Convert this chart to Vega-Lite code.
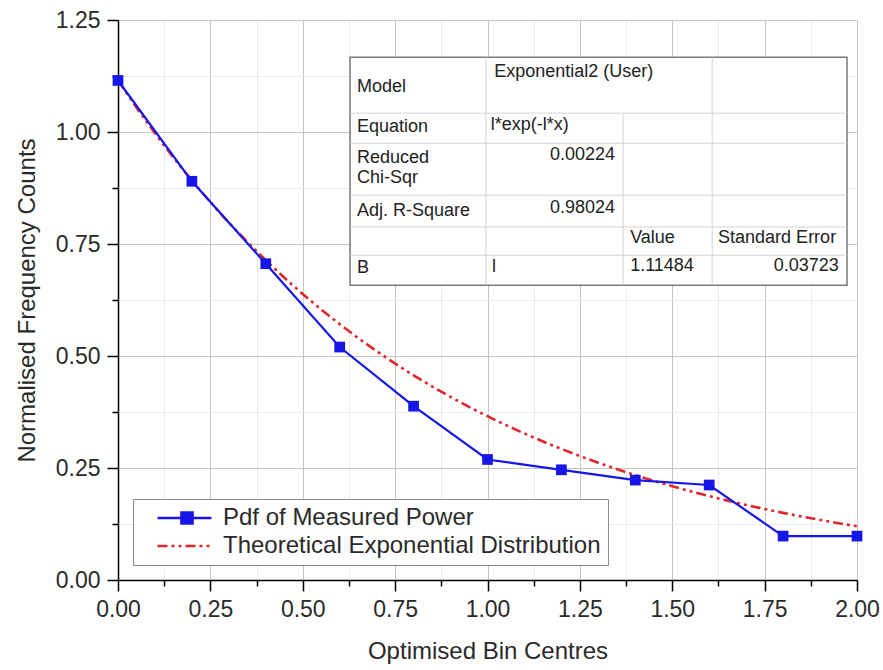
{
  "$schema": "https://vega.github.io/schema/vega-lite/v6.json",
  "width": 739,
  "height": 560,
  "autosize": {"type": "none"},
  "padding": {"left": 118, "top": 20, "right": 26, "bottom": 90},
  "background": "white",
  "config": {
    "view": {"stroke": null},
    "font": "Liberation Sans",
    "axis": {
      "domainColor": "#000000",
      "domainWidth": 1.5,
      "tickColor": "#000000",
      "tickWidth": 1.5,
      "labelFont": "Liberation Sans",
      "labelFontSize": 23,
      "labelColor": "#2a2a2a",
      "titleFont": "Liberation Sans",
      "titleFontSize": 24,
      "titleFontWeight": "normal",
      "titleColor": "#2a2a2a",
      "gridWidth": 1
    }
  },
  "datasets": {
    "measured": [
      {"bin": 0.0, "count": 1.115, "series": "Pdf of Measured Power"},
      {"bin": 0.2, "count": 0.890, "series": "Pdf of Measured Power"},
      {"bin": 0.4, "count": 0.706, "series": "Pdf of Measured Power"},
      {"bin": 0.6, "count": 0.520, "series": "Pdf of Measured Power"},
      {"bin": 0.8, "count": 0.388, "series": "Pdf of Measured Power"},
      {"bin": 1.0, "count": 0.269, "series": "Pdf of Measured Power"},
      {"bin": 1.2, "count": 0.246, "series": "Pdf of Measured Power"},
      {"bin": 1.4, "count": 0.223, "series": "Pdf of Measured Power"},
      {"bin": 1.6, "count": 0.212, "series": "Pdf of Measured Power"},
      {"bin": 1.8, "count": 0.098, "series": "Pdf of Measured Power"},
      {"bin": 2.0, "count": 0.098, "series": "Pdf of Measured Power"}
    ],
    "theory": [
      {"bin": 0.0, "count": 1.11484, "series": "Theoretical Exponential Distribution"},
      {"bin": 0.1, "count": 0.99723, "series": "Theoretical Exponential Distribution"},
      {"bin": 0.2, "count": 0.89203, "series": "Theoretical Exponential Distribution"},
      {"bin": 0.3, "count": 0.79793, "series": "Theoretical Exponential Distribution"},
      {"bin": 0.4, "count": 0.71375, "series": "Theoretical Exponential Distribution"},
      {"bin": 0.5, "count": 0.63844, "series": "Theoretical Exponential Distribution"},
      {"bin": 0.6, "count": 0.57109, "series": "Theoretical Exponential Distribution"},
      {"bin": 0.7, "count": 0.51084, "series": "Theoretical Exponential Distribution"},
      {"bin": 0.8, "count": 0.45695, "series": "Theoretical Exponential Distribution"},
      {"bin": 0.9, "count": 0.40875, "series": "Theoretical Exponential Distribution"},
      {"bin": 1.0, "count": 0.36563, "series": "Theoretical Exponential Distribution"},
      {"bin": 1.1, "count": 0.32705, "series": "Theoretical Exponential Distribution"},
      {"bin": 1.2, "count": 0.29255, "series": "Theoretical Exponential Distribution"},
      {"bin": 1.3, "count": 0.26169, "series": "Theoretical Exponential Distribution"},
      {"bin": 1.4, "count": 0.23408, "series": "Theoretical Exponential Distribution"},
      {"bin": 1.5, "count": 0.20939, "series": "Theoretical Exponential Distribution"},
      {"bin": 1.6, "count": 0.18730, "series": "Theoretical Exponential Distribution"},
      {"bin": 1.7, "count": 0.16754, "series": "Theoretical Exponential Distribution"},
      {"bin": 1.8, "count": 0.14987, "series": "Theoretical Exponential Distribution"},
      {"bin": 1.9, "count": 0.13406, "series": "Theoretical Exponential Distribution"},
      {"bin": 2.0, "count": 0.11992, "series": "Theoretical Exponential Distribution"}
    ],
    "tableBox": [{"x": 0.628, "x2": 1.973, "y": 0.658, "y2": 1.167}],
    "tableH": [
      {"y": 1.042, "x": 0.628, "x2": 1.973},
      {"y": 0.975, "x": 0.628, "x2": 1.973},
      {"y": 0.859, "x": 0.628, "x2": 1.973},
      {"y": 0.788, "x": 0.628, "x2": 1.973},
      {"y": 0.725, "x": 0.628, "x2": 1.973}
    ],
    "tableV": [
      {"x": 0.996, "y": 0.658, "y2": 1.167},
      {"x": 1.367, "y": 0.658, "y2": 1.042},
      {"x": 1.608, "y": 0.658, "y2": 1.167}
    ],
    "cellsLeft": [
      {"x": 0.647, "y": 1.100, "text": "Model"},
      {"x": 1.018, "y": 1.134, "text": "Exponential2 (User)"},
      {"x": 0.647, "y": 1.011, "text": "Equation"},
      {"x": 1.009, "y": 1.016, "text": "l*exp(-l*x)"},
      {"x": 0.647, "y": 0.942, "text": "Reduced"},
      {"x": 0.647, "y": 0.897, "text": "Chi-Sqr"},
      {"x": 0.647, "y": 0.824, "text": "Adj. R-Square"},
      {"x": 1.386, "y": 0.763, "text": "Value"},
      {"x": 1.624, "y": 0.763, "text": "Standard Error"},
      {"x": 0.647, "y": 0.696, "text": "B"},
      {"x": 1.012, "y": 0.699, "text": "l"},
      {"x": 1.386, "y": 0.701, "text": "1.11484"}
    ],
    "cellsRight": [
      {"x": 1.345, "y": 0.949, "text": "0.00224"},
      {"x": 1.345, "y": 0.830, "text": "0.98024"},
      {"x": 1.951, "y": 0.701, "text": "0.03723"}
    ]
  },
  "layer": [
    {
      "data": {"name": "theory"},
      "mark": {"type": "line", "strokeWidth": 2.6, "strokeDash": [10, 4, 3, 4, 3, 4], "interpolate": "monotone"},
      "encoding": {
        "x": {
          "field": "bin", "type": "quantitative",
          "scale": {"domain": [0, 2], "nice": false, "zero": false},
          "axis": {
            "title": "Optimised Bin Centres",
            "values": [0, 0.125, 0.25, 0.375, 0.5, 0.625, 0.75, 0.875, 1, 1.125, 1.25, 1.375, 1.5, 1.625, 1.75, 1.875, 2],
            "labelExpr": "abs(datum.value*4 - round(datum.value*4)) < 0.001 ? format(datum.value, '.2f') : ''",
            "tickSize": {"condition": {"test": "abs(datum.value*4 - round(datum.value*4)) > 0.001", "value": 6}, "value": 11},
            "gridColor": {"condition": {"test": "abs(datum.value*4 - round(datum.value*4)) > 0.001", "value": "#ececec"}, "value": "#c4c4c4"},
            "labelPadding": 7,
            "titlePadding": 18,
            "labelFlush": false,
            "labelOverlap": false
          }
        },
        "y": {
          "field": "count", "type": "quantitative",
          "scale": {"domain": [0, 1.25], "nice": false, "zero": false},
          "axis": {
            "title": "Normalised Frequency Counts",
            "values": [0, 0.125, 0.25, 0.375, 0.5, 0.625, 0.75, 0.875, 1, 1.125, 1.25],
            "labelExpr": "abs(datum.value*4 - round(datum.value*4)) < 0.001 ? format(datum.value, '.2f') : ''",
            "tickSize": {"condition": {"test": "abs(datum.value*4 - round(datum.value*4)) > 0.001", "value": 6}, "value": 11},
            "gridColor": {"condition": {"test": "abs(datum.value*4 - round(datum.value*4)) > 0.001", "value": "#ececec"}, "value": "#c4c4c4"},
            "labelPadding": 7,
            "titlePadding": 16,
            "labelFlush": false,
            "labelOverlap": false
          }
        },
        "color": {
          "field": "series", "type": "nominal",
          "scale": {"domain": ["Pdf of Measured Power", "Theoretical Exponential Distribution"], "range": ["#1616e8", "#e3262c"]},
          "legend": {
            "title": null,
            "orient": "bottom-left",
            "offset": 15,
            "fillColor": "white",
            "strokeColor": "#8a8a8a",
            "padding": 7,
            "labelFont": "Liberation Sans",
            "labelFontSize": 24,
            "labelColor": "#2a2a2a",
            "labelOffset": 10,
            "labelLimit": 500,
            "symbolSize": 4900,
            "symbolType": "M-0.543,0H1",
            "clipHeight": 24,
            "rowPadding": 4,
            "encode": {
              "symbols": {
                "update": {
                  "shape": {"signal": "datum.value === 'Pdf of Measured Power' ? 'M-0.543,0H1M0.143,-0.157H0.457V0.157H0.143Z' : 'M-0.543,0H1'"},
                  "fill": {"signal": "datum.value === 'Pdf of Measured Power' ? '#1616e8' : 'transparent'"},
                  "stroke": {"signal": "datum.value === 'Pdf of Measured Power' ? '#1616e8' : '#e3262c'"},
                  "strokeWidth": {"value": 2.6},
                  "strokeDash": {"signal": "datum.value === 'Pdf of Measured Power' ? [1, 0] : [10, 4, 3, 4, 3, 4]"},
                  "opacity": {"value": 1}
                }
              }
            }
          }
        }
      }
    },
    {
      "data": {"name": "measured"},
      "mark": {"type": "line", "strokeWidth": 2.2, "point": {"shape": "square", "filled": true, "size": 115, "opacity": 1}},
      "encoding": {
        "x": {"field": "bin", "type": "quantitative"},
        "y": {"field": "count", "type": "quantitative"},
        "color": {"field": "series", "type": "nominal"}
      }
    },
    {
      "data": {"name": "tableBox"},
      "mark": {"type": "rect", "fill": "white", "stroke": "#7a7a7a", "strokeWidth": 1.5},
      "encoding": {
        "x": {"field": "x", "type": "quantitative"},
        "x2": {"field": "x2"},
        "y": {"field": "y", "type": "quantitative"},
        "y2": {"field": "y2"}
      }
    },
    {
      "data": {"name": "tableH"},
      "mark": {"type": "rule", "color": "#d4d4d4", "strokeWidth": 1},
      "encoding": {
        "y": {"field": "y", "type": "quantitative"},
        "x": {"field": "x", "type": "quantitative"},
        "x2": {"field": "x2"}
      }
    },
    {
      "data": {"name": "tableV"},
      "mark": {"type": "rule", "color": "#d4d4d4", "strokeWidth": 1},
      "encoding": {
        "x": {"field": "x", "type": "quantitative"},
        "y": {"field": "y", "type": "quantitative"},
        "y2": {"field": "y2"}
      }
    },
    {
      "data": {"name": "cellsLeft"},
      "mark": {"type": "text", "align": "left", "baseline": "middle", "font": "Liberation Sans", "fontSize": 18, "color": "#222222"},
      "encoding": {
        "x": {"field": "x", "type": "quantitative"},
        "y": {"field": "y", "type": "quantitative"},
        "text": {"field": "text"}
      }
    },
    {
      "data": {"name": "cellsRight"},
      "mark": {"type": "text", "align": "right", "baseline": "middle", "font": "Liberation Sans", "fontSize": 18, "color": "#222222"},
      "encoding": {
        "x": {"field": "x", "type": "quantitative"},
        "y": {"field": "y", "type": "quantitative"},
        "text": {"field": "text"}
      }
    }
  ]
}
